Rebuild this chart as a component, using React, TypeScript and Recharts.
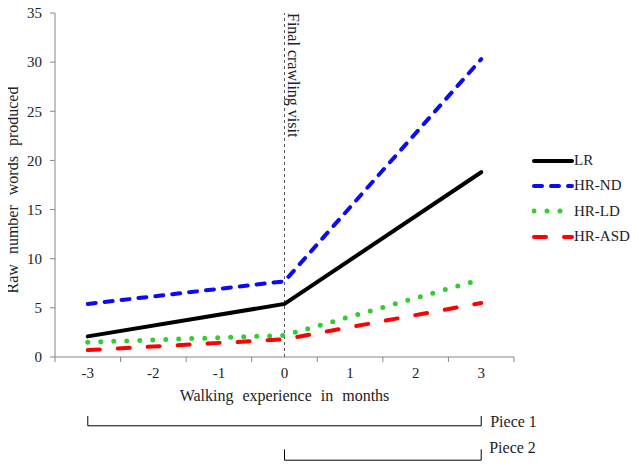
import React from 'react';
import { LineChart, Line, XAxis, YAxis, ReferenceLine, ReferenceDot, Legend } from 'recharts';

const months = [-3, 0, 3];
const lr = [2.1, 5.4, 18.8];
const hrNd = [5.4, 7.7, 30.3];
const hrLd = [1.5, 2.2, 7.9];
const hrAsd = [0.7, 1.8, 5.5];
const xTicks = [-3.5, -3, -2.5, -2, -1.5, -1, -0.5, 0, 0.5, 1, 1.5, 2, 2.5, 3, 3.5];
const yTicks = [0, 5, 10, 15, 20, 25, 30, 35];
const seriesNames = ['LR', 'HR-ND', 'HR-LD', 'HR-ASD'];

const FONT = '"Liberation Serif", "Times New Roman", serif';
const TEXT = '#222';
const AXIS = '#868686';

const data = months.map((m, i) => ({
  month: m,
  LR: lr[i],
  'HR-ND': hrNd[i],
  'HR-LD': hrLd[i],
  'HR-ASD': hrAsd[i],
}));

const styles: Record<string, { color: string; dash?: string; width: number }> = {
  LR: { color: '#000000', width: 4 },
  'HR-ND': { color: '#0a0af5', dash: '8 9', width: 4 },
  'HR-LD': { color: '#33cc33', dash: '0 13', width: 5 },
  'HR-ASD': { color: '#ff0000', dash: '12 18', width: 4 },
};

const XTick = (props: any) => {
  const { x, y, payload } = props;
  const v = payload.value;
  if (Number.isInteger(v)) {
    return (
      <text x={x} y={y} dy={16} textAnchor="middle" fill={TEXT} fontSize={15} fontFamily={FONT}>
        {v}
      </text>
    );
  }
  return <line x1={x} x2={x} y1={y - 5} y2={y} stroke={AXIS} strokeWidth={1} />;
};

const LegendContent = () => (
  <div>
    {seriesNames.map((n) => {
      const s = styles[n];
      return (
        <div key={n} style={{ display: 'flex', alignItems: 'center', height: 25.3 }}>
          <svg width={42} height={10} style={{ display: 'block' }}>
            <line
              x1={2}
              y1={5}
              x2={40}
              y2={5}
              stroke={s.color}
              strokeWidth={s.width}
              strokeDasharray={s.dash}
              strokeLinecap="round"
            />
          </svg>
          <span style={{ fontFamily: FONT, fontSize: 15, color: TEXT, lineHeight: '15px' }}>{n}</span>
        </div>
      );
    })}
  </div>
);

export default function App() {
  return (
    <div style={{ marginLeft: -8, marginTop: -8, width: 639, height: 468 }}>
      <LineChart
        width={639}
        height={468}
        data={data}
        margin={{ top: 13, right: 125, left: 15, bottom: 61 }}
      >
        <XAxis
          dataKey="month"
          type="number"
          domain={[-3.5, 3.5]}
          ticks={xTicks}
          interval={0}
          tick={<XTick />}
          tickLine={false}
          tickSize={5}
          tickMargin={0}
          height={50}
          stroke={AXIS}
          label={(p: any) => {
            const vb = p.viewBox;
            return (
              <text
                x={vb.x + vb.width / 2}
                y={vb.y + 44}
                textAnchor="middle"
                fill={TEXT}
                fontSize={16}
                fontFamily={FONT}
                style={{ wordSpacing: 5 }}
              >
                Walking experience in months
              </text>
            );
          }}
        />
        <YAxis
          type="number"
          domain={[0, 35]}
          ticks={yTicks}
          interval={0}
          width={40}
          tickSize={5}
          tickMargin={8}
          stroke={AXIS}
          tick={{ fill: TEXT, fontSize: 15, fontFamily: FONT }}
          label={(p: any) => {
            const vb = p.viewBox;
            const cx = vb.x + 3;
            const cy = 190;
            return (
              <text
                x={cx}
                y={cy}
                transform={`rotate(-90, ${cx}, ${cy})`}
                textAnchor="middle"
                fill={TEXT}
                fontSize={16}
                fontFamily={FONT}
                style={{ wordSpacing: 6 }}
              >
                Raw number words produced
              </text>
            );
          }}
        />
        <ReferenceLine
          x={0}
          stroke="#555"
          strokeDasharray="3 3"
          strokeWidth={1}
          label={(p: any) => {
            const vb = p.viewBox;
            const tx = vb.x + 3;
            const ty = vb.y;
            return (
              <text
                x={tx}
                y={ty}
                transform={`rotate(90, ${tx}, ${ty})`}
                textAnchor="start"
                fill={TEXT}
                fontSize={16}
                fontFamily={FONT}
              >
                Final crawling visit
              </text>
            );
          }}
        />
        <ReferenceLine ifOverflow="visible" segment={[{ x: -3, y: -6 }, { x: -3, y: -7 }]} stroke="#000" strokeWidth={1} />
        <ReferenceLine ifOverflow="visible" segment={[{ x: -3, y: -7 }, { x: 3, y: -7 }]} stroke="#000" strokeWidth={1} />
        <ReferenceLine ifOverflow="visible" segment={[{ x: 3, y: -7 }, { x: 3, y: -6 }]} stroke="#000" strokeWidth={1} />
        <ReferenceLine ifOverflow="visible" segment={[{ x: 0, y: -9.4 }, { x: 0, y: -10.5 }]} stroke="#000" strokeWidth={1} />
        <ReferenceLine ifOverflow="visible" segment={[{ x: 0, y: -10.5 }, { x: 3, y: -10.5 }]} stroke="#000" strokeWidth={1} />
        <ReferenceLine ifOverflow="visible" segment={[{ x: 3, y: -10.5 }, { x: 3, y: -9.4 }]} stroke="#000" strokeWidth={1} />
        <ReferenceDot
          x={3}
          y={-7}
          r={0}
          ifOverflow="visible"
          fill="none"
          stroke="none"
          label={(p: any) => {
            const vb = p.viewBox;
            return (
              <text x={vb.x + 9} y={vb.y + 1} fill={TEXT} fontSize={16} fontFamily={FONT}>
                Piece 1
              </text>
            );
          }}
        />
        <ReferenceDot
          x={3}
          y={-10.5}
          r={0}
          ifOverflow="visible"
          fill="none"
          stroke="none"
          label={(p: any) => {
            const vb = p.viewBox;
            return (
              <text x={vb.x + 8} y={vb.y - 7} fill={TEXT} fontSize={16} fontFamily={FONT}>
                Piece 2
              </text>
            );
          }}
        />
        {seriesNames.map((n) => (
          <Line
            key={n}
            dataKey={n}
            name={n}
            type="linear"
            stroke={styles[n].color}
            strokeWidth={styles[n].width}
            strokeDasharray={styles[n].dash}
            strokeLinecap="round"
            dot={false}
            activeDot={false}
            isAnimationActive={false}
          />
        ))}
        <Legend
          layout="vertical"
          align="center"
          verticalAlign="middle"
          content={<LegendContent />}
          wrapperStyle={{ left: 532, top: 148, width: 110 }}
        />
      </LineChart>
    </div>
  );
}
